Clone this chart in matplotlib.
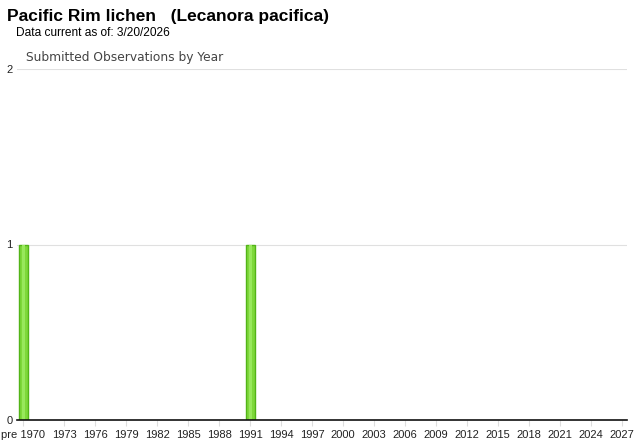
import matplotlib
matplotlib.use("Agg")
import matplotlib.pyplot as plt

# Data
years = [1969, 1991]          # 1969 represents "pre 1970"
counts = [1, 1]
tick_years = [1969] + list(range(1973, 2028, 3))
tick_labels = ["pre 1970"] + [str(y) for y in range(1973, 2028, 3)]
yticks = [0, 1, 2]

fig = plt.figure(figsize=(6.4, 4.42), dpi=100)
W, H = 640, 442
left, right, bottom, top = 17 / W, 627 / W, 1 - 420 / H, 1 - 69 / H
ax = fig.add_axes([left, bottom, right - left, top - bottom])

ax.bar(years, counts, width=0.9, color="#7ED83A", edgecolor="#52B417", linewidth=1.0, zorder=3)
# highlight stripe
ax.bar(years, counts, width=0.3, color="#98E85C", linewidth=0, zorder=4, align="center")

ax.set_xlim(1968.4, 2027.5)
ax.set_ylim(0, 2)
ax.set_yticks(yticks)
ax.set_yticklabels([str(v) for v in yticks], fontfamily="Liberation Sans", fontsize=8, color="#222222")
ax.set_xticks(tick_years)
ax.set_xticklabels(tick_labels, fontfamily="Liberation Sans", fontsize=8, color="#222222")
ax.tick_params(axis="y", length=0, pad=3)
ax.tick_params(axis="x", length=4, color="#dddddd", pad=3)
for v in yticks[1:]:
    ax.axhline(v, color="#e0e0e0", linewidth=0.8, zorder=1)
for s in ["top", "right", "left"]:
    ax.spines[s].set_visible(False)
ax.spines["bottom"].set_color("#111111")
ax.spines["bottom"].set_linewidth(1.2)
ax.spines["bottom"].set_zorder(5)

fig.text(7 / W, 1 - 16 / H, "Pacific Rim lichen   (Lecanora pacifica)", fontfamily="Liberation Sans",
         fontweight="bold", fontsize=12.5, va="center", ha="left", color="#000000")
fig.text(16 / W, 1 - 33 / H, "Data current as of: 3/20/2026", fontfamily="Liberation Sans",
         fontsize=8.6, va="center", ha="left", color="#000000")
fig.text(26 / W, 1 - 58 / H, "Submitted Observations by Year", fontfamily="DejaVu Sans",
         fontsize=8.8, va="center", ha="left", color="#444444")

fig.savefig("out.png", dpi=100)
